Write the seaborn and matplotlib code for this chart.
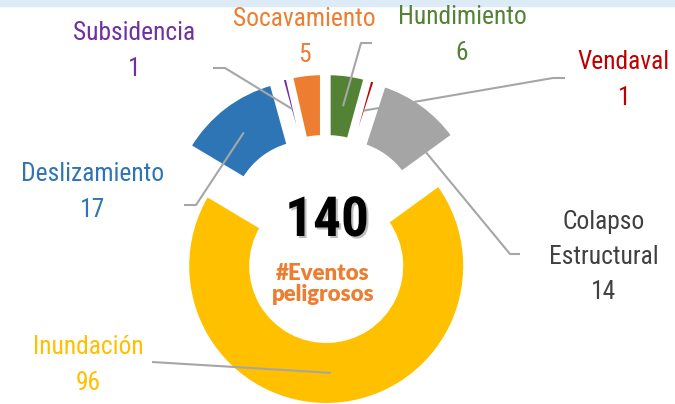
import matplotlib
matplotlib.use("Agg")
import numpy as np
import matplotlib.pyplot as plt
import matplotlib.patheffects as pe
from matplotlib import font_manager
import seaborn as sns

# data, in the order the slices go round clockwise from 12 o'clock
categories = ["Hundimiento", "Vendaval", "Colapso\nEstructural", "Inundación",
              "Deslizamiento", "Subsidencia", "Socavamiento"]
counts = [6, 1, 14, 96, 17, 1, 5]
slice_colors = ["#548235", "#C00000", "#A5A5A5", "#FFC000", "#2E75B6", "#7030A0", "#ED7D31"]
label_colors = ["#548235", "#C00000", "#404040", "#FFC000", "#2E75B6", "#7030A0", "#ED7D31"]
center_caption = "#Eventos\npeligrosos"

# layout (pixels, y from the top)
W, H = 675, 404
label_pos = {
    "Hundimiento": (462, 35),
    "Vendaval": (624, 80),
    "Colapso\nEstructural": (604, 257),
    "Inundación": (88, 365),
    "Deslizamiento": (93, 192),
    "Subsidencia": (134, 51),
    "Socavamiento": (304, 37),
}
# leader: label side start, knee, position along the wedge (0..1)
leaders = {
    "Hundimiento": ((372, 43), (361, 43), 0.5),
    "Vendaval": ((565, 78), (553, 78), 0.5),
    "Colapso\nEstructural": ((520, 254), (510, 254), 0.95),
    "Inundación": ((152, 362), (152, 362), 0.5),
    "Deslizamiento": ((184, 205), (196, 205), 0.5),
    "Subsidencia": ((213, 68), (225, 68), 0.5),
}

sns.set_theme(style="white")

# narrowest font we can find
installed = {f.name for f in font_manager.fontManager.ttflist}
candidates = ["Roboto Condensed", "Liberation Sans Narrow", "DejaVu Sans Condensed",
              "Open Sans Condensed", "Roboto", "Liberation Sans", "DejaVu Sans"]
narrow = next(f for f in candidates if f in installed)
plt.rcParams["font.family"] = [narrow, "DejaVu Sans"]

fig = plt.figure(figsize=(W / 100, H / 100), dpi=100, facecolor="white")
ax = fig.add_axes([0, 0, 1, 1])
renderer = fig.canvas.get_renderer()


def fit_size(s, width_px, start, **kw):
    t = fig.text(0, 0, s, fontsize=start, **kw)
    w = t.get_window_extent(renderer=renderer).width
    t.remove()
    return min(start, start * width_px / w)


label_fs = fit_size("Deslizamiento", 143, 20)
total_fs = fit_size("140", 84, 43, fontweight="bold")

# y axis is flipped below, so counterclock in data = clockwise on screen
wedges, _ = ax.pie(counts, colors=sns.color_palette(slice_colors), startangle=-90,
                   counterclock=True, radius=139, center=(325, 239),
                   explode=[27] * len(counts),
                   wedgeprops=dict(width=64, edgecolor="white", linewidth=2.9))
ax.set_xlim(0, W)
ax.set_ylim(H, 0)
ax.set_aspect("equal")
ax.axis("off")

for w, name in zip(wedges, categories):
    if name not in leaders:
        continue
    (sx, sy), (kx, ky), frac = leaders[name]
    ang = np.deg2rad(w.theta1 + frac * (w.theta2 - w.theta1))
    rho = w.r - w.width / 2
    ex = w.center[0] + rho * np.cos(ang)
    ey = w.center[1] + rho * np.sin(ang)
    ax.plot([sx, kx, ex], [sy, ky, ey], color="#A6A6A6", lw=1.5,
            solid_capstyle="butt", zorder=3)

for name, n, col in zip(categories, counts, label_colors):
    x, y = label_pos[name]
    ax.text(x, y, f"{name}\n{n}", ha="center", va="center", color=col,
            fontsize=label_fs, linespacing=1.6, zorder=4)

ax.text(327, 221, str(sum(counts)), ha="center", va="center", color="black",
        fontsize=total_fs, fontweight="bold", zorder=4,
        path_effects=[pe.withSimplePatchShadow(offset=(1.5, -1.5),
                                               shadow_rgbFace="#808080", alpha=0.5)])
ax.text(323, 284, center_caption, ha="center", va="center", color="#ED7D31",
        fontsize=16, fontweight="heavy", family=["Lato", "DejaVu Sans"],
        linespacing=1.0, zorder=4)

# light blue strip along the top edge
fig.add_artist(plt.Rectangle((0, 1 - 6 / H), 1, 6 / H, transform=fig.transFigure,
                             color="#DDEBF7", zorder=0))

fig.savefig("out.png", dpi=100, facecolor="white")
